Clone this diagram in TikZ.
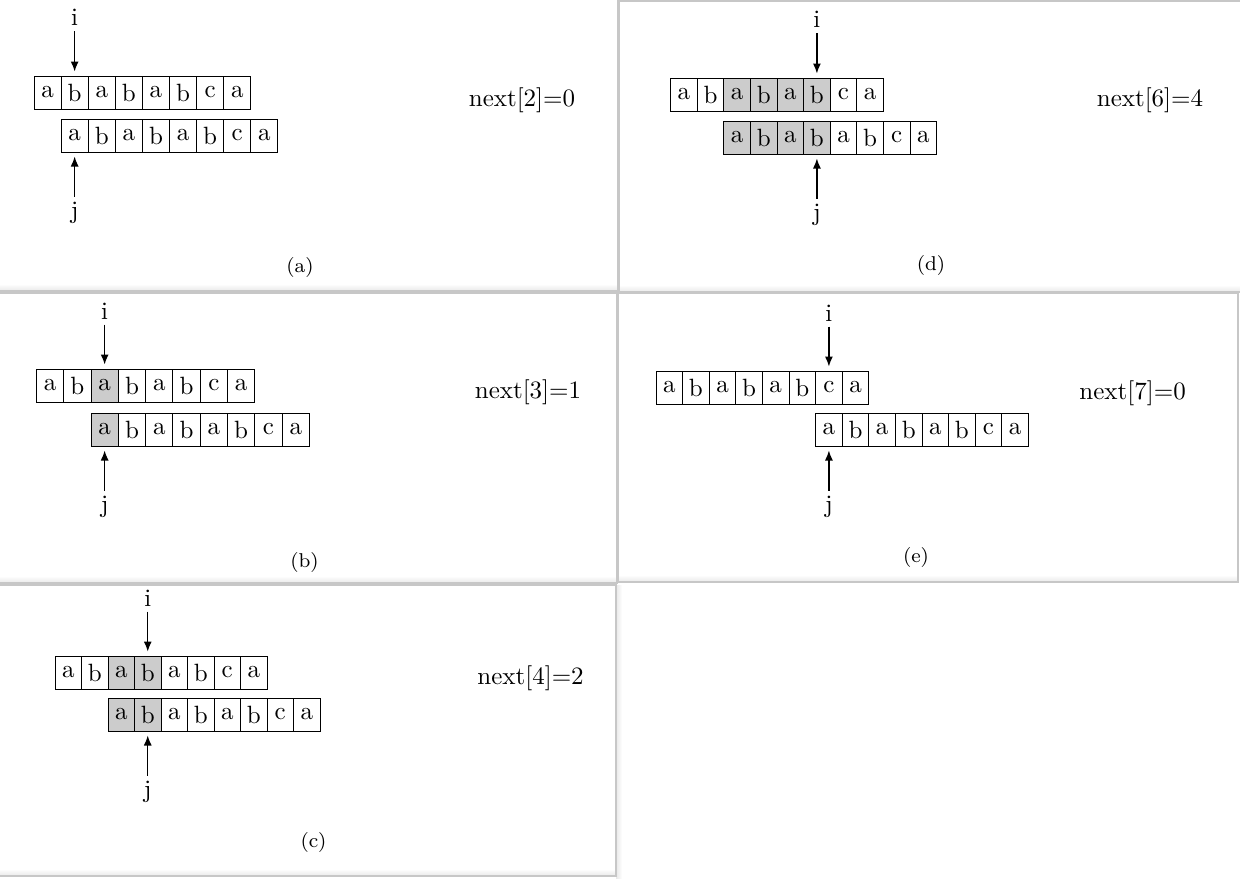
\documentclass[tikz,border=0pt]{standalone}
\usepackage{tikz}
\usetikzlibrary{positioning, arrows.meta}

\tikzset{
  cell/.style={draw, line width=0.4pt, minimum height=13.2pt, inner sep=0pt, fill=white},
  hit/.style={cell, fill=black!20},
  ptr/.style={-{Latex[length=4pt,width=3.2pt]}, line width=0.5pt, shorten >=1.6pt},
  lbl/.style={inner sep=2pt},
  captext/.style={font=\footnotesize},
  frame/.style={draw=black!22, line width=0.8pt},
  shadow/.style={top color=white, bottom color=black!9, draw=none},
}

% one row of cells: name prefix, left x, top y, cell width, letter/style list
\newcommand{\cellrow}[5]{%
  \foreach \chr/\sty [count=\n] in {#5}
    \node[\sty, minimum width=#4*0.4pt] (#1\n) at ({#2+#4*(\n-0.5)}, {#3+16.5}) {\chr};
}

\begin{document}
\begin{tikzpicture}[x=0.4pt, y=-0.4pt]
            \useasboundingbox (0,0) rectangle (1240,880);
            \fill[white] (0,0) rectangle (1240,880);
            % soft shadows along the lower edges
            \foreach \xa/\xb/\yb in {0/617/291, 620/1240/292, 0/616/583, 619/1237/582, 0/615/876}{
                \shade[shadow] (\xa,\yb-7) rectangle (\xb,\yb);
            }
            \shade[left color=black!9, right color=white, draw=none] (616,585) rectangle (622,878);
            \draw[frame] (-2,-2) rectangle (618,291);
            \draw[frame] (619,0.5) rectangle (1241,292);
            \draw[frame] (-2,292.5) rectangle (617,583);
            \draw[frame] (618,292.5) rectangle (1238,582);
            \draw[frame] (-2,585) rectangle (616,876);

            % (a)
            \cellrow{a-t}{34}{76}{27.1}{a/cell,b/cell,a/cell,b/cell,a/cell,b/cell,c/cell,a/cell}
            \cellrow{a-b}{61.1}{119}{27.1}{a/cell,b/cell,a/cell,b/cell,a/cell,b/cell,c/cell,a/cell}
            \node[lbl, above=17.6pt of a-t2] (a-i) {i};
            \node[lbl, below=17.6pt of a-b1] (a-j) {j};
            \draw[ptr] (a-i) -- (a-t2);
            \draw[ptr] (a-j) -- (a-b1);
            \node (a-next) at (522,100) {next[2]=0};
            \node[captext] (a-cap) at (300,267) {(a)};

            % (b)
            \cellrow{b-t}{36.4}{369}{27.3}{a/cell,b/cell,a/hit,b/cell,a/cell,b/cell,c/cell,a/cell}
            \cellrow{b-b}{91}{413}{27.3}{a/hit,b/cell,a/cell,b/cell,a/cell,b/cell,c/cell,a/cell}
            \node[lbl, above=17.6pt of b-t3] (b-i) {i};
            \node[lbl, below=17.6pt of b-b1] (b-j) {j};
            \draw[ptr] (b-i) -- (b-t3);
            \draw[ptr] (b-j) -- (b-b1);
            \node (b-next) at (528,392) {next[3]=1};
            \node[captext] (b-cap) at (304.5,562) {(b)};

            % (c)
            \cellrow{c-t}{55}{656}{26.5}{a/cell,b/cell,a/hit,b/hit,a/cell,b/cell,c/cell,a/cell}
            \cellrow{c-b}{108}{698}{26.5}{a/hit,b/hit,a/cell,b/cell,a/cell,b/cell,c/cell,a/cell}
            \node[lbl, above=17.6pt of c-t4] (c-i) {i};
            \node[lbl, below=17.6pt of c-b2] (c-j) {j};
            \draw[ptr] (c-i) -- (c-t4);
            \draw[ptr] (c-j) -- (c-b2);
            \node (c-next) at (530.6,678) {next[4]=2};
            \node[captext] (c-cap) at (313.5,842) {(c)};

            % (d)
            \cellrow{d-t}{670.6}{78}{26.6}{a/cell,b/cell,a/hit,b/hit,a/hit,b/hit,c/cell,a/cell}
            \cellrow{d-b}{723.8}{121}{26.6}{a/hit,b/hit,a/hit,b/hit,a/cell,b/cell,c/cell,a/cell}
            \node[lbl, above=17.6pt of d-t6] (d-i) {i};
            \node[lbl, below=17.6pt of d-b4] (d-j) {j};
            \draw[ptr] (d-i) -- (d-t6);
            \draw[ptr] (d-j) -- (d-b4);
            \node (d-next) at (1150,100) {next[6]=4};
            \node[captext] (d-cap) at (931,265) {(d)};

            % (e)
            \cellrow{e-t}{656}{371}{26.6}{a/cell,b/cell,a/cell,b/cell,a/cell,b/cell,c/cell,a/cell}
            \cellrow{e-b}{815.6}{413}{26.6}{a/cell,b/cell,a/cell,b/cell,a/cell,b/cell,c/cell,a/cell}
            \node[lbl, above=17.6pt of e-t7] (e-i) {i};
            \node[lbl, below=17.6pt of e-b1] (e-j) {j};
            \draw[ptr] (e-i) -- (e-t7);
            \draw[ptr] (e-j) -- (e-b1);
            \node (e-next) at (1132.6,393) {next[7]=0};
            \node[captext] (e-cap) at (916,557) {(e)};
        \end{tikzpicture}
\end{document}
